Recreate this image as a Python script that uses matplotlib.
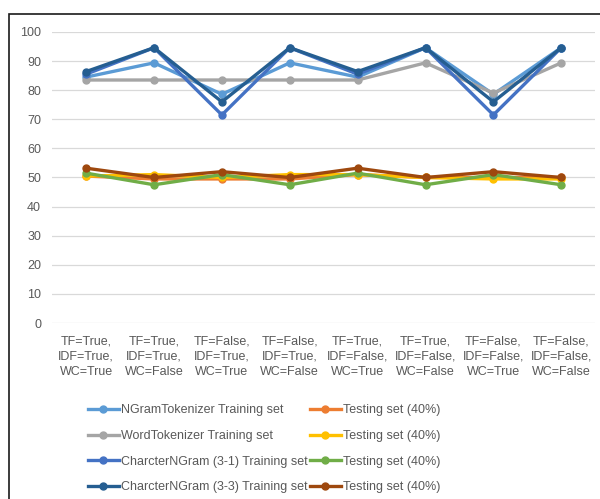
import matplotlib.pyplot as plt
from matplotlib.patches import Rectangle

# feature settings on the x axis
settings = ["TF=True,\nIDF=True,\nWC=True", "TF=True,\nIDF=True,\nWC=False",
            "TF=False,\nIDF=True,\nWC=True", "TF=False,\nIDF=True,\nWC=False",
            "TF=True,\nIDF=False,\nWC=True", "TF=True,\nIDF=False,\nWC=False",
            "TF=False,\nIDF=False,\nWC=True", "TF=False,\nIDF=False,\nWC=False"]

# training accuracies (%)
ngram_train = [84.5, 89.4, 78.6, 89.4, 84.5, 94.6, 78.6, 94.6]
word_train = [83.5, 83.5, 83.5, 83.5, 83.5, 89.4, 79.0, 89.4]
char31_train = [85.5, 94.6, 71.5, 94.6, 85.5, 94.6, 71.5, 94.6]
char33_train = [86.4, 94.6, 76.0, 94.6, 86.4, 94.6, 76.0, 94.6]

# testing accuracies on 40% split (%)
ngram_test = [50.5, 49.5, 49.5, 49.5, 51.0, 50.0, 50.0, 50.0]
word_test = [50.5, 51.0, 50.0, 51.0, 51.0, 50.0, 49.5, 49.5]
char31_test = [51.5, 47.5, 51.0, 47.5, 51.5, 47.5, 51.0, 47.5]
char33_test = [53.2, 50.0, 52.0, 50.0, 53.2, 50.0, 52.0, 50.0]

series = [
  ("NGramTokenizer Training set", ngram_train, "#5B9BD5"),
  ("WordTokenizer Training set", word_train, "#A5A5A5"),
  ("CharcterNGram (3-1) Training set", char31_train, "#4472C4"),
  ("CharcterNGram (3-3) Training set", char33_train, "#255E91"),
  ("Testing set (40%)", ngram_test, "#ED7D31"),
  ("Testing set (40%)", word_test, "#FFC000"),
  ("Testing set (40%)", char31_test, "#70AD47"),
  ("Testing set (40%)", char33_test, "#9E480E"),
]

plt.rcParams['font.family'] = ['Liberation Sans Narrow', 'Liberation Sans', 'DejaVu Sans']
txtcol = "#595959"

fig = plt.figure(figsize=(6.0, 4.99), dpi=100)
ax = fig.add_axes([0.087, 0.3527, 0.905, 0.5832])

x = list(range(len(settings)))
# draw testing first so training lines stay on top
for label, vals, col in series[4:] + series[:4]:
  ax.plot(x, vals, color=col, lw=2.4, marker="o", ms=5, label=label, clip_on=False)

ax.set_xlim(-0.5, len(settings) - 0.5)
ax.set_ylim(0, 100)
ax.set_yticks(range(0, 101, 10))
ax.set_xticks(x)
ax.set_xticklabels(settings, fontsize=9, color=txtcol, linespacing=1.35)
ax.tick_params(axis="y", labelsize=9, labelcolor=txtcol, length=0, pad=8)
ax.tick_params(axis="x", length=0, pad=9)
ax.grid(axis="y", color="#D9D9D9", lw=0.9)
ax.set_axisbelow(True)
for s in ax.spines.values():
  s.set_visible(False)

handles, labels = ax.get_legend_handles_labels()
order = [4, 5, 6, 7, 0, 1, 2, 3]
leg = fig.legend([handles[i] for i in order], [labels[i] for i in order],
                 ncol=2, loc="upper left", bbox_to_anchor=(0.138, 0.2),
                 frameon=False, fontsize=9, handlelength=2.5,
                 handletextpad=0.15, labelspacing=1.1, columnspacing=0.15,
                 borderaxespad=0)
for t in leg.get_texts():
  t.set_color(txtcol)

# outer frame of the chart object
fig.patches.append(Rectangle((9 / 600, -0.1), 1.2, 1 - 14 / 499 + 0.1,
                             transform=fig.transFigure, fill=False,
                             ec="#1a1a1a", lw=1.2))

fig.savefig("out.png", dpi=100)
